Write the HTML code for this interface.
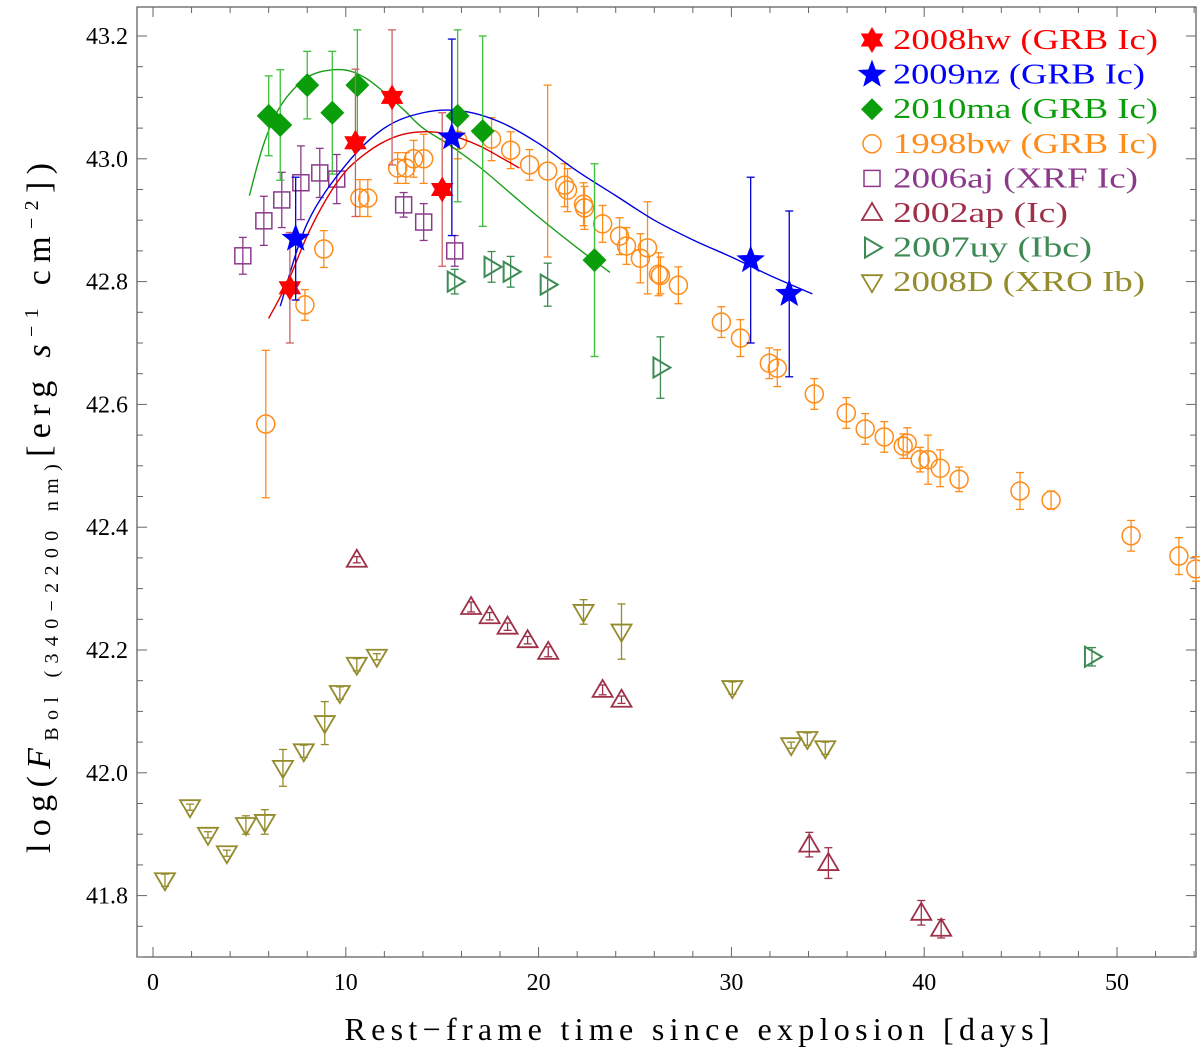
<!DOCTYPE html>
<html><head><meta charset="utf-8"><style>
body{margin:0;background:#fff}
svg{display:block;font-family:"Liberation Serif",serif}
</style></head><body>
<svg id="c" width="1200" height="1055" viewBox="0 0 1200 1055" xmlns="http://www.w3.org/2000/svg">
<rect x="0" y="0" width="1200" height="1055" fill="#fff"/>
<g id="axes"></g><g id="marks"></g><g id="legend"></g>
<text x="697" y="1040" font-size="32" text-anchor="middle" textLength="705" lengthAdjust="spacing">Rest−frame time since explosion [days]</text>
<text transform="translate(50,508) rotate(-90)" font-size="34" text-anchor="middle" textLength="690" lengthAdjust="spacing">log(<tspan font-style="italic">F</tspan><tspan font-size="20" dy="8">Bol (340−2200 nm)</tspan><tspan dy="-8">[erg </tspan><tspan font-style="italic">s</tspan><tspan font-size="20" dy="-12">−1</tspan><tspan dy="12"> cm</tspan><tspan font-size="20" dy="-12">−2</tspan><tspan dy="12">])</tspan></text>
</svg>
<script>
const xTicks=[0,10,20,30,40,50];
const yTicks=[41.8,42.0,42.2,42.4,42.6,42.8,43.0,43.2];
// 2008hw
const hwX=[7.1,10.5,12.4,15.0], hwY=[42.79,43.026,43.10,42.95], hwE=[0.09,0.12,0.11,0.125];
// 2009nz
const nzX=[7.4,15.5,31.0,33.0], nzY=[42.87,43.035,42.835,42.78], nzE=[0.1,0.16,0.135,0.135];
// 2010ma
const maX=[6.0,6.6,8.0,9.3,10.6,15.8,17.1,22.9], maY=[43.07,43.055,43.12,43.075,43.12,43.07,43.045,42.835], maE=[0.065,0.09,0.055,0.1,0.09,0.14,0.155,0.157];
// 1998bw
const bwX=[5.85,7.88,8.86,10.73,11.14,12.69,13.11,13.52,14.04,15.8,17.56,18.55,19.53,20.47,21.35,21.5,22.33,22.38,23.32,24.2,24.56,25.28,25.65,26.22,26.32,27.25,29.48,30.47,31.97,32.38,34.3,35.96,36.94,37.93,38.91,39.12,39.79,40.2,40.83,41.81,44.97,46.58,50.73,53.21,54.09];
const bwY=[42.568,42.762,42.853,42.936,42.936,42.985,42.985,43.0,43.0,43.03,43.032,43.014,42.99,42.98,42.957,42.949,42.926,42.92,42.894,42.874,42.858,42.838,42.855,42.812,42.81,42.794,42.734,42.708,42.667,42.659,42.617,42.586,42.56,42.547,42.532,42.537,42.51,42.51,42.496,42.478,42.459,42.444,42.386,42.353,42.332];
const bwE=[0.12,0.025,0.03,0.03,0.03,0.025,0.025,0.03,0.04,0.03,0.035,0.03,0.025,0.14,0.035,0.035,0.035,0.035,0.03,0.03,0.03,0.04,0.075,0.035,0.03,0.03,0.025,0.03,0.025,0.03,0.025,0.025,0.025,0.025,0.02,0.025,0.02,0.04,0.03,0.02,0.03,0.015,0.025,0.03,0.02];
// 2006aj
const ajX=[4.66,5.75,6.68,7.67,8.65,9.53,13.0,14.04,15.65], ajY=[42.842,42.899,42.933,42.961,42.977,42.967,42.925,42.897,42.85], ajE=[0.03,0.04,0.045,0.06,0.04,0.04,0.02,0.03,0.025];
// 2002ap
const apX=[10.57,16.5,17.46,18.39,19.43,20.5,23.32,24.3,34.04,35.03,39.85,40.88], apY=[42.347,42.27,42.255,42.238,42.216,42.197,42.135,42.119,41.883,41.853,41.772,41.746], apE=[0.005,0.008,0.006,0.006,0.006,0.008,0.008,0.006,0.02,0.025,0.02,0.015];
// 2007uy
const uyX=[15.65,17.56,18.55,20.47,26.32,48.7], uyY=[42.8,42.824,42.816,42.795,42.66,42.189], uyE=[0.02,0.025,0.025,0.035,0.05,0.015];
// 2008D
const dX=[0.62,1.92,2.85,3.83,4.82,5.8,6.74,7.82,8.91,9.69,10.57,11.61,22.33,24.3,30.05,33.1,33.94,34.87], dY=[41.825,41.944,41.899,41.869,41.915,41.92,42.008,42.035,42.081,42.13,42.176,42.189,42.262,42.23,42.138,42.045,42.055,42.04], dE=[0.01,0.005,0.005,0.005,0.015,0.02,0.03,0.01,0.035,0.01,0.01,0.005,0.02,0.045,0.01,0.005,0.01,0.01];
// fit curves
const cHwX=[6.0,7,8,9,10,11,12,13,14,15,16,17,18,19], cHwY=[42.74,42.80,42.875,42.935,42.98,43.008,43.028,43.04,43.044,43.042,43.033,43.02,43.003,42.985];
const cNzX=[6.6,8,10,12,14,16,18,20,22,24,26,28,30,32,34.2], cNzY=[42.76,42.895,42.99,43.05,43.075,43.078,43.06,43.025,42.98,42.94,42.9,42.868,42.84,42.81,42.78];
const cMaX=[5.0,5.7,6.5,7.5,8.5,9.9,11,12,13,14,15.5,17,18.5,20,22,23.7], cMaY=[42.94,43.02,43.08,43.12,43.14,43.145,43.132,43.108,43.08,43.05,43.02,42.985,42.945,42.905,42.855,42.815];

const NS='http://www.w3.org/2000/svg';
const X=d=>153+d*19.28, Y=v=>36+(43.2-v)*614;
const L=137,R=1196,T=7,B=957;
function el(tag,a,p){const e=document.createElementNS(NS,tag);for(const k in a)e.setAttribute(k,a[k]);p.appendChild(e);return e;}
const ax=document.getElementById('axes'), mk=document.getElementById('marks'), lg=document.getElementById('legend');
const frame=el('rect',{x:L,y:T,width:R-L,height:B-T,fill:'none',stroke:'#555','stroke-width':1.2},ax);


for(let d=0;d<=54;d+=2){const big=d%10===0;const x=X(d);
 el('line',{x1:x,x2:x,y1:B,y2:B-(big?10:6),stroke:'#666'},ax);el('line',{x1:x,x2:x,y1:T,y2:T+(big?10:6),stroke:'#666'},ax);}
for(let i=0;i<=31;i++){const v=41.7+i*0.05;const y=Y(v);if(y<T||y>B)continue;const big=Math.abs((v*10)%2)<0.01||Math.abs((v*10)%2-2)<0.01;
 el('line',{x1:L,x2:L+(big?10:6),y1:y,y2:y,stroke:'#666'},ax);el('line',{x1:R,x2:R-(big?10:6),y1:y,y2:y,stroke:'#666'},ax);}
xTicks.forEach(t=>{const e=el('text',{x:X(t),y:990,'font-size':24,'text-anchor':'middle'},ax);e.textContent=t;
 
 });
yTicks.forEach(t=>{const e=el('text',{x:128,y:Y(t)+8,'font-size':24,'text-anchor':'end'},ax);e.textContent=t.toFixed(1);
 
 });

function curve(xs,ys,col,name){
 const P=xs.map((x,i)=>[X(x),Y(ys[i])]);let d='M'+P[0][0]+','+P[0][1];
 for(let i=0;i<P.length-1;i++){const p0=P[Math.max(0,i-1)],p1=P[i],p2=P[i+1],p3=P[Math.min(P.length-1,i+2)];
  d+=` C${p1[0]+(p2[0]-p0[0])/6},${p1[1]+(p2[1]-p0[1])/6} ${p2[0]-(p3[0]-p1[0])/6},${p2[1]-(p3[1]-p1[1])/6} ${p2[0]},${p2[1]}`;}
 const p=el('path',{d,fill:'none',stroke:col,'stroke-width':1.4},mk);
 
 }
function star(cx,cy,r,n,inner){let p=[];for(let i=0;i<2*n;i++){const a=-Math.PI/2+i*Math.PI/n;const rr=i%2?r*inner:r;p.push((cx+rr*Math.cos(a)).toFixed(1)+','+(cy+rr*Math.sin(a)).toFixed(1));}return p.join(' ');}
function marker(g,kind,cx,cy,col,s){
 if(kind==='hex')el('polygon',{points:star(cx,cy,s,6,0.58),fill:col},g);
 else if(kind==='star')el('polygon',{points:star(cx,cy,s,5,0.42),fill:col},g);
 else if(kind==='dia')el('polygon',{points:`${cx},${cy-s} ${cx+s},${cy} ${cx},${cy+s} ${cx-s},${cy}`,fill:col},g);
 else if(kind==='circ')el('circle',{cx,cy,r:s,fill:'none',stroke:col,'stroke-width':1.5},g);
 else if(kind==='sq')el('rect',{x:cx-s,y:cy-s,width:2*s,height:2*s,fill:'none',stroke:col,'stroke-width':1.5},g);
 else if(kind==='up')el('polygon',{points:`${cx},${cy-s} ${cx+s},${cy+s*0.7} ${cx-s},${cy+s*0.7}`,fill:'none',stroke:col,'stroke-width':1.8},g);
 else if(kind==='down')el('polygon',{points:`${cx},${cy+s} ${cx+s},${cy-s*0.7} ${cx-s},${cy-s*0.7}`,fill:'none',stroke:col,'stroke-width':1.8},g);
 else if(kind==='right')el('polygon',{points:`${cx+s},${cy} ${cx-s*0.7},${cy-s} ${cx-s*0.7},${cy+s}`,fill:'none',stroke:col,'stroke-width':2},g);
}
function series(xs,ys,es,kind,col,ecol,s,name){const g=el('g',{},mk);
 
 
 xs.forEach((x,i)=>{const cx=X(x),cy=Y(ys[i]),y1=Y(ys[i]+es[i]),y2=Y(ys[i]-es[i]);
  el('line',{x1:cx,x2:cx,y1,y2,stroke:ecol,'stroke-width':1.3},g);
  el('line',{x1:cx-4,x2:cx+4,y1,y2:y1,stroke:ecol,'stroke-width':1.3},g);
  el('line',{x1:cx-4,x2:cx+4,y1:y2,y2:y2,stroke:ecol,'stroke-width':1.3},g);
  marker(g,kind,cx,cy,col,s);});}
const OR='#ff8c1a',PU='#8b3a8b',AP='#9e3048',UY='#3d8a55',D8='#948c2c';
series(dX,dY,dE,'down',D8,D8,10,'series-2008d');
series(apX,apY,apE,'up',AP,AP,10,'series-2002ap');
series(uyX,uyY,uyE,'right',UY,UY,10,'series-2007uy');
series(ajX,ajY,ajE,'sq',PU,PU,8,'series-2006aj');
series(bwX,bwY,bwE,'circ',OR,OR,9,'series-1998bw');
curve(cMaX,cMaY,'#1a9e1a','fit-2010ma');
curve(cHwX,cHwY,'#e00000','fit-2008hw');
curve(cNzX,cNzY,'#0000e0','fit-2009nz');
series(maX,maY,maE,'dia','#0a9e0a','#3cbf3c',12,'series-2010ma');
series(hwX,hwY,hwE,'hex','#ff0000','#d06060',13,'series-2008hw');
series(nzX,nzY,nzE,'star','#0000ff','#0000d0',15,'series-2009nz');

const legNames=['2008hw (GRB Ic)','2009nz (GRB Ic)','2010ma (GRB Ic)','1998bw (GRB Ic)','2006aj (XRF Ic)','2002ap (Ic)','2007uy (Ibc)','2008D (XRO Ib)'];
const legKinds=['hex','star','dia','circ','sq','up','right','down'];
const legCols=['#ff0000','#0000ff','#0a9e0a',OR,PU,AP,UY,D8];
const legW=[265,252,265,265,245,175,199,252];
const legSz=[13,15,11,9,8,10,10,10];
legNames.forEach((n,i)=>{const y=40+i*34.6;const g=el('g',{},lg);
 
 
 marker(g,legKinds[i],872,y,legCols[i],legSz[i]);
 const t=el('text',{x:893,y:y+9,'font-size':28,fill:legCols[i],textLength:legW[i],lengthAdjust:'spacingAndGlyphs'},g);t.textContent=n;});
</script>
</body></html>
